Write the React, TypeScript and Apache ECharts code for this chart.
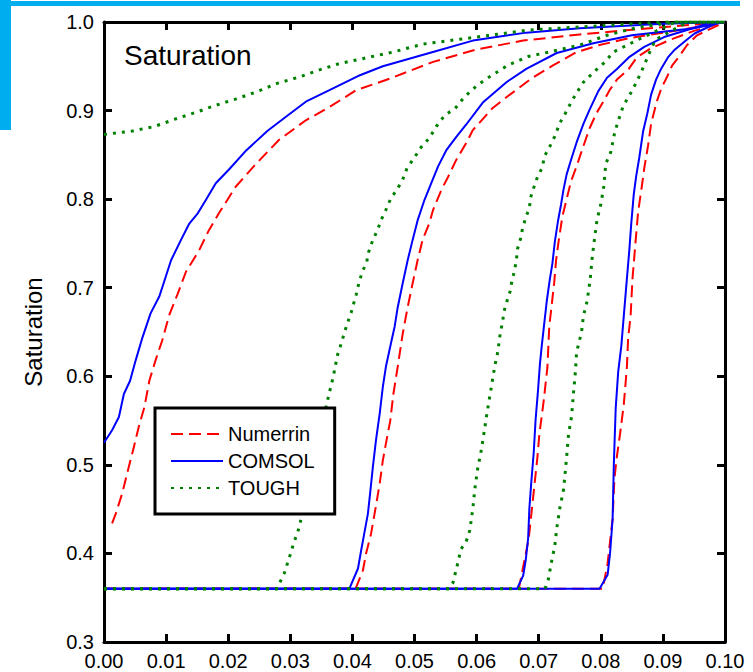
import React, { useEffect, useRef } from "react";
import * as echarts from "echarts";

const FONT = '"Liberation Sans", Arial, Helvetica, sans-serif';

const xTicks = { min: 0, max: 0.1, step: 0.01 };
const yTicks = { min: 0.3, max: 1.0, step: 0.1 };
const legendNames = ["Numerrin", "COMSOL", "TOUGH"];

// Numerrin (red dashed)
const numerrin1 = [[0.0013,0.434],[0.0019,0.445],[0.0029,0.467],[0.004,0.498],[0.0048,0.52],[0.0056,0.543],[0.0065,0.565],[0.0073,0.595],[0.0083,0.618],[0.0094,0.641],[0.0105,0.669],[0.0118,0.692],[0.0132,0.718],[0.0153,0.742],[0.0169,0.765],[0.0185,0.784],[0.0212,0.814],[0.0245,0.84],[0.0282,0.867],[0.0325,0.889],[0.0363,0.904],[0.0406,0.923],[0.046,0.936],[0.053,0.955],[0.06,0.969],[0.0675,0.979],[0.0766,0.986],[0.0863,0.992],[0.1,1.0]];
const numerrin2 = [[0,0.36],[0.0405,0.36],[0.0417,0.381],[0.0422,0.4],[0.043,0.422],[0.0438,0.454],[0.0444,0.479],[0.0449,0.505],[0.0455,0.528],[0.0461,0.55],[0.0466,0.58],[0.0473,0.611],[0.0481,0.648],[0.0489,0.678],[0.0497,0.705],[0.0505,0.731],[0.0513,0.754],[0.0524,0.773],[0.053,0.788],[0.0543,0.81],[0.0554,0.825],[0.0567,0.844],[0.0583,0.863],[0.0594,0.878],[0.0626,0.903],[0.0648,0.915],[0.069,0.937],[0.0723,0.951],[0.0761,0.966],[0.0798,0.974],[0.0847,0.982],[0.092,0.99],[0.1,1.0]];
const numerrin3 = [[0,0.36],[0.0668,0.36],[0.0677,0.392],[0.0684,0.417],[0.0691,0.463],[0.0698,0.509],[0.0701,0.534],[0.0708,0.572],[0.0714,0.61],[0.0717,0.656],[0.0721,0.681],[0.0725,0.706],[0.0728,0.731],[0.0732,0.752],[0.0738,0.78],[0.0745,0.8],[0.0752,0.82],[0.0761,0.837],[0.0772,0.86],[0.0782,0.88],[0.0793,0.897],[0.0804,0.91],[0.0815,0.924],[0.0826,0.935],[0.0845,0.947],[0.0858,0.96],[0.088,0.97],[0.0912,0.98],[0.095,0.99],[0.1,1.0]];
const numerrin4 = [[0,0.36],[0.0803,0.36],[0.0811,0.389],[0.0819,0.439],[0.0822,0.485],[0.0826,0.51],[0.0831,0.535],[0.0837,0.568],[0.0842,0.61],[0.0844,0.643],[0.0848,0.668],[0.0851,0.71],[0.0856,0.752],[0.086,0.785],[0.0866,0.814],[0.087,0.835],[0.0876,0.86],[0.0881,0.885],[0.089,0.91],[0.0898,0.926],[0.0906,0.937],[0.0915,0.951],[0.0925,0.96],[0.0939,0.974],[0.0955,0.985],[0.1,1.0]];

// COMSOL (blue solid)
const comsol1 = [[0,0.525],[0.0013,0.539],[0.0024,0.554],[0.0032,0.58],[0.0042,0.595],[0.0051,0.618],[0.0062,0.644],[0.0075,0.671],[0.0089,0.69],[0.0096,0.705],[0.0108,0.731],[0.0124,0.754],[0.0137,0.772],[0.0151,0.784],[0.0164,0.799],[0.018,0.818],[0.0202,0.834],[0.0229,0.855],[0.0263,0.877],[0.0293,0.893],[0.0325,0.91],[0.0363,0.923],[0.0409,0.939],[0.0449,0.95],[0.0524,0.965],[0.0594,0.979],[0.068,0.988],[0.0766,0.993],[0.09,0.998],[0.1,1.0]];
const comsol2 = [[0,0.36],[0.0395,0.36],[0.0409,0.383],[0.0414,0.403],[0.0419,0.422],[0.0425,0.445],[0.0429,0.471],[0.0433,0.498],[0.0438,0.528],[0.0444,0.558],[0.0449,0.588],[0.0454,0.611],[0.0462,0.637],[0.0468,0.656],[0.0473,0.678],[0.0481,0.705],[0.0489,0.731],[0.0497,0.754],[0.0505,0.776],[0.0516,0.799],[0.0527,0.818],[0.0538,0.837],[0.0551,0.855],[0.0567,0.87],[0.0583,0.884],[0.061,0.909],[0.0648,0.932],[0.068,0.947],[0.0729,0.965],[0.0788,0.976],[0.085,0.985],[0.095,0.993],[0.1,1.0]];
const comsol3 = [[0,0.36],[0.0665,0.36],[0.0675,0.375],[0.0679,0.392],[0.0683,0.417],[0.0685,0.451],[0.0688,0.48],[0.0692,0.514],[0.0695,0.551],[0.0699,0.585],[0.0702,0.614],[0.0705,0.635],[0.0709,0.66],[0.0713,0.685],[0.0718,0.71],[0.0722,0.727],[0.0726,0.752],[0.0731,0.775],[0.0736,0.794],[0.074,0.811],[0.0745,0.828],[0.0751,0.842],[0.0761,0.864],[0.0772,0.885],[0.0782,0.901],[0.0796,0.922],[0.081,0.937],[0.0826,0.947],[0.0845,0.96],[0.087,0.972],[0.0902,0.983],[0.0939,0.991],[0.098,1.0]];
const comsol4 = [[0,0.36],[0.0798,0.36],[0.0811,0.376],[0.0815,0.401],[0.0819,0.439],[0.0821,0.501],[0.0824,0.564],[0.0828,0.605],[0.0833,0.634],[0.0837,0.668],[0.0842,0.71],[0.0846,0.743],[0.0849,0.772],[0.0853,0.805],[0.0857,0.826],[0.0862,0.847],[0.0868,0.876],[0.0875,0.897],[0.0881,0.918],[0.0889,0.935],[0.0897,0.947],[0.0908,0.96],[0.0918,0.968],[0.0935,0.978],[0.0951,0.987],[0.099,1.0]];

// TOUGH (green dotted)
const tough1 = [[0,0.873],[0.0046,0.877],[0.0081,0.882],[0.0113,0.89],[0.0148,0.898],[0.018,0.906],[0.0212,0.913],[0.0245,0.921],[0.028,0.931],[0.0315,0.938],[0.0347,0.946],[0.0379,0.953],[0.0465,0.966],[0.0513,0.975],[0.06,0.983],[0.0685,0.991],[0.0782,0.995],[0.09,1.0],[0.1,1.0]];
const tough2 = [[0,0.36],[0.0278,0.36],[0.029,0.377],[0.0296,0.39],[0.0301,0.401],[0.0306,0.413],[0.0312,0.424],[0.0316,0.435],[0.0362,0.579],[0.0369,0.599],[0.0376,0.624],[0.0382,0.637],[0.0391,0.658],[0.0398,0.672],[0.0406,0.692],[0.0411,0.707],[0.0416,0.718],[0.0423,0.729],[0.0426,0.74],[0.0433,0.754],[0.0441,0.766],[0.0446,0.776],[0.0454,0.788],[0.0462,0.801],[0.0472,0.811],[0.0481,0.822],[0.0488,0.835],[0.0499,0.846],[0.0511,0.859],[0.0524,0.869],[0.0535,0.882],[0.0549,0.895],[0.0565,0.902],[0.058,0.915],[0.06,0.928],[0.0616,0.936],[0.065,0.951],[0.0683,0.961],[0.0723,0.967],[0.0766,0.974],[0.081,0.985],[0.086,0.994],[0.092,1.0],[0.1,1.0]];
const tough3 = [[0,0.36],[0.0555,0.36],[0.0562,0.367],[0.057,0.39],[0.0575,0.405],[0.0583,0.413],[0.0589,0.426],[0.0594,0.451],[0.0597,0.472],[0.0602,0.497],[0.0608,0.518],[0.0611,0.532],[0.0616,0.555],[0.0619,0.568],[0.0624,0.589],[0.0627,0.602],[0.063,0.614],[0.0634,0.627],[0.0638,0.648],[0.0642,0.662],[0.0644,0.673],[0.0649,0.685],[0.0654,0.696],[0.0657,0.708],[0.0661,0.719],[0.0664,0.731],[0.0666,0.744],[0.0671,0.756],[0.0674,0.767],[0.0679,0.779],[0.0685,0.79],[0.0687,0.802],[0.0693,0.815],[0.0698,0.825],[0.0706,0.836],[0.0709,0.848],[0.0719,0.861],[0.0726,0.871],[0.0734,0.886],[0.0743,0.897],[0.0752,0.909],[0.0761,0.92],[0.0772,0.932],[0.0791,0.945],[0.0807,0.955],[0.082,0.966],[0.086,0.98],[0.092,1.0],[0.1,1.0]];
const tough4 = [[0,0.36],[0.071,0.36],[0.0715,0.369],[0.0721,0.392],[0.0726,0.409],[0.0729,0.428],[0.0734,0.451],[0.074,0.472],[0.0745,0.509],[0.0748,0.534],[0.0753,0.555],[0.0756,0.581],[0.0759,0.604],[0.0761,0.627],[0.0769,0.65],[0.0772,0.668],[0.0778,0.685],[0.0783,0.71],[0.0786,0.733],[0.079,0.756],[0.0794,0.777],[0.08,0.794],[0.0805,0.815],[0.0808,0.84],[0.0816,0.853],[0.0822,0.874],[0.0827,0.886],[0.0836,0.905],[0.085,0.922],[0.0858,0.933],[0.0866,0.945],[0.088,0.968],[0.0888,0.98],[0.094,1.0],[0.1,1.0]];

const RED = "#ff0000";
const BLUE = "#0000ff";
const GREEN = "#008000";

function line(name: string, data: number[][], color: string, width: number, type: any, z: number) {
  return {
    name,
    type: "line",
    data,
    symbol: "none",
    showSymbol: false,
    silent: true,
    z,
    lineStyle: { color, width, type },
    itemStyle: { color },
  };
}

export default function App() {
  const ref = useRef<HTMLDivElement>(null);
  useEffect(() => {
    if (!ref.current) return;
    const chart = echarts.init(ref.current, null, { renderer: "svg" });
    const axisLine = { show: true, onZero: false, lineStyle: { color: "#000", width: 3 } };
    const axisTick = { show: true, inside: true, length: 8, lineStyle: { color: "#000", width: 3 } };
    const xCommon = {
      type: "value",
      min: xTicks.min,
      max: xTicks.max,
      interval: xTicks.step,
      splitLine: { show: false },
      axisLine,
      axisTick,
    };
    const yCommon = {
      type: "value",
      min: yTicks.min,
      max: yTicks.max,
      interval: yTicks.step,
      splitLine: { show: false },
      axisLine,
      axisTick,
    };
    const series: any[] = [];
    [numerrin1, numerrin2, numerrin3, numerrin4].forEach((d) =>
      series.push(line("Numerrin", d, RED, 2, [12, 6], 2))
    );
    [comsol1, comsol2, comsol3, comsol4].forEach((d) =>
      series.push(line("COMSOL", d, BLUE, 2, "solid", 3))
    );
    [tough1, tough2, tough3, tough4].forEach((d) =>
      series.push(line("TOUGH", d, GREEN, 3, [3, 6], 4))
    );
    chart.setOption({
      animation: false,
      backgroundColor: "#ffffff",
      grid: { left: 104, top: 22, width: 621, height: 620, containLabel: false },
      title: {
        text: "Saturation",
        left: 124,
        top: 41,
        padding: 0,
        textStyle: { fontSize: 28, fontWeight: "normal", color: "#000", fontFamily: FONT },
      },
      legend: {
        data: legendNames,
        orient: "vertical",
        left: 155,
        top: 408,
        z: 20,
        padding: [16, 20, 16, 15],
        itemWidth: 52,
        itemHeight: 14,
        itemGap: 7,
        selectedMode: false,
        backgroundColor: "#ffffff",
        borderColor: "#000",
        borderWidth: 3,
        borderRadius: 0,
        itemStyle: { color: "transparent", borderWidth: 0, opacity: 0 },
        textStyle: { fontSize: 20, color: "#000", fontFamily: FONT },
      },
      xAxis: [
        {
          ...xCommon,
          position: "bottom",
          axisLabel: {
            show: true,
            showMinLabel: true,
            showMaxLabel: true,
            formatter: (v: number) => v.toFixed(2),
            fontSize: 20,
            color: "#000",
            fontFamily: FONT,
            margin: 9,
          },
        },
        { ...xCommon, position: "top", axisLabel: { show: false } },
      ],
      yAxis: [
        {
          ...yCommon,
          position: "left",
          name: "Saturation",
          nameLocation: "middle",
          nameRotate: 90,
          nameGap: 59,
          nameTextStyle: { fontSize: 24, color: "#000", fontFamily: FONT },
          axisLabel: {
            show: true,
            showMinLabel: true,
            showMaxLabel: true,
            formatter: (v: number) => v.toFixed(1),
            fontSize: 20,
            color: "#000",
            fontFamily: FONT,
            margin: 10,
          },
        },
        { ...yCommon, position: "right", axisLabel: { show: false } },
      ],
      graphic: [
        { type: "rect", shape: { x: 0, y: 1, width: 740, height: 5 }, style: { fill: "#00aeef" }, z: 100 },
        { type: "rect", shape: { x: 0, y: 0, width: 11, height: 130 }, style: { fill: "#00aeef" }, z: 100 },
      ],
      series,
    });
    return () => chart.dispose();
  }, []);
  return (
    <div
      ref={ref}
      style={{ position: "fixed", left: 0, top: 0, width: 753, height: 672, background: "#fff" }}
    />
  );
}
